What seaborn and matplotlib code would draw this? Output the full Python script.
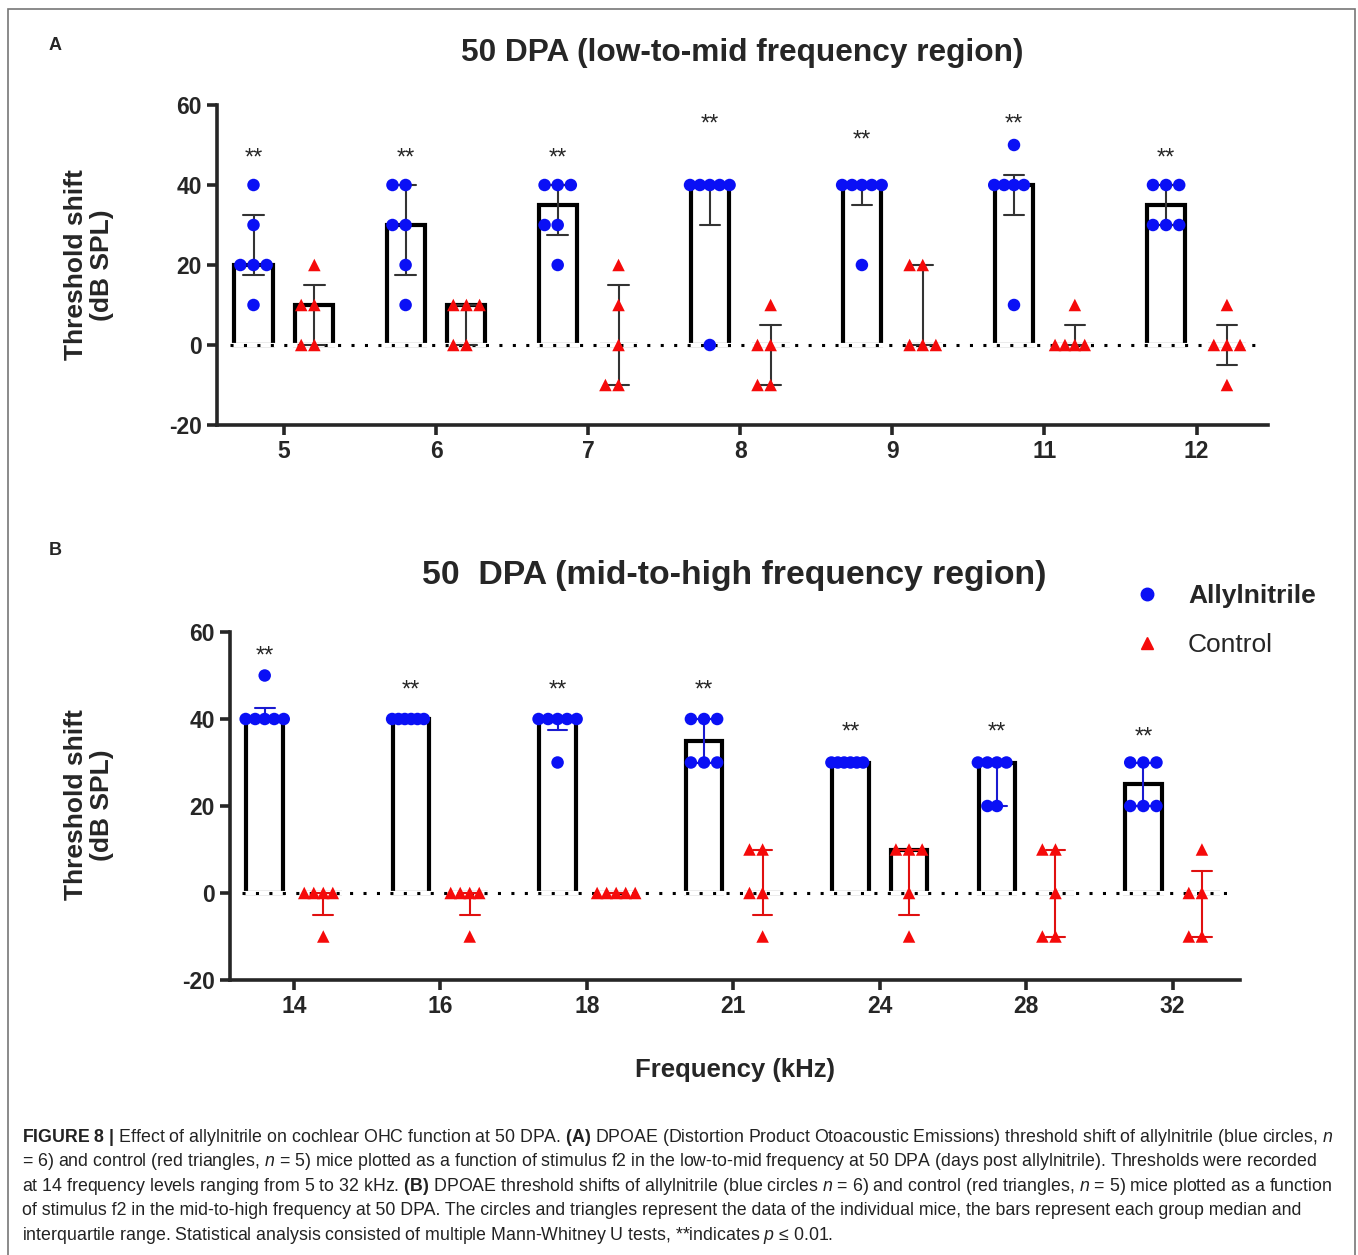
import numpy as np
import pandas as pd
import matplotlib
matplotlib.use("Agg")
import matplotlib.pyplot as plt
import seaborn as sns
from matplotlib.lines import Line2D
from matplotlib.patches import Rectangle

# Panel A: low-to-mid frequencies (kHz), threshold shift per mouse (dB SPL)
freq_a = ["5", "6", "7", "8", "9", "11", "12"]
allyl_a = [
    [40, 30, 20, 20, 20, 10],
    [40, 40, 30, 30, 20, 10],
    [40, 40, 40, 30, 30, 20],
    [40, 40, 40, 40, 40, 0],
    [40, 40, 40, 40, 40, 20],
    [50, 40, 40, 40, 40, 10],
    [40, 40, 40, 30, 30, 30],
]
ctrl_a = [
    [20, 10, 10, 0, 0],
    [10, 10, 10, 0, 0],
    [20, 10, 0, -10, -10],
    [10, 0, 0, -10, -10],
    [20, 20, 0, 0, 0],
    [10, 0, 0, 0, 0],
    [10, 0, 0, 0, -10],
]
sig_a = [46.5, 46.5, 46.5, 55, 51, 55, 46.5]

# Panel B: mid-to-high frequencies
freq_b = ["14", "16", "18", "21", "24", "28", "32"]
allyl_b = [
    [50, 40, 40, 40, 40, 40],
    [40, 40, 40, 40, 40, 40],
    [40, 40, 40, 40, 40, 30],
    [40, 40, 40, 30, 30, 30],
    [30, 30, 30, 30, 30, 30],
    [30, 30, 30, 30, 20, 20],
    [30, 30, 30, 20, 20, 20],
]
ctrl_b = [
    [0, 0, 0, 0, -10],
    [0, 0, 0, 0, -10],
    [0, 0, 0, 0, 0],
    [10, 10, 0, 0, -10],
    [10, 10, 10, 0, -10],
    [10, 10, 0, -10, -10],
    [10, 0, 0, -10, -10],
]
sig_b = [54.3, 46.6, 46.6, 46.6, 36.8, 36.8, 35.8]

groups = ["Allylnitrile", "Control"]
dot_colors = {"Allylnitrile": "#0a10f5", "Control": "#f50a0a"}
markers = {"Allylnitrile": "o", "Control": "^"}

sns.set_style("ticks")
plt.rcParams["font.family"] = ["Liberation Sans", "DejaVu Sans"]
plt.rcParams["axes.unicode_minus"] = False
plt.rcParams["mathtext.fontset"] = "custom"
plt.rcParams["mathtext.rm"] = "Liberation Sans"
plt.rcParams["mathtext.it"] = "Liberation Sans:italic"
plt.rcParams["mathtext.bf"] = "Liberation Sans:bold"


def long_df(freqs, allyl, ctrl):
    rows = []
    for f, a, c in zip(freqs, allyl, ctrl):
        rows += [(f, "Allylnitrile", v) for v in a]
        rows += [(f, "Control", v) for v in c]
    return pd.DataFrame(rows, columns=["freq", "group", "shift"])


def iqr(x):
    # GraphPad style quartiles
    return (np.percentile(x, 25, method="weibull"),
            np.percentile(x, 75, method="weibull"))


def draw_panel(ax, df, freqs, err_colors, sig_y, xlim):
    for g in groups:
        sub = df[df.group == g]
        sns.barplot(data=sub, x="freq", y="shift", hue="group", order=freqs,
                    hue_order=groups, palette={k: "white" for k in groups},
                    estimator="median", errorbar=iqr, capsize=0.27,
                    err_kws={"color": err_colors[g], "linewidth": 1.5},
                    width=0.8, gap=0.375, dodge=True, edgecolor="black",
                    linewidth=3, saturation=1, legend=False, ax=ax)
    for g in groups:
        sub = df[df.group == g]
        sns.swarmplot(data=sub, x="freq", y="shift", hue="group", order=freqs,
                      hue_order=groups, palette=dot_colors, dodge=True,
                      marker=markers[g], size=9, linewidth=0, legend=False,
                      warn_thresh=1, ax=ax)
    for p in ax.patches:
        p.set_zorder(2)
    for ln in ax.lines:
        ln.set_zorder(3)
    for c in ax.collections:
        c.set_zorder(4)
    ax.axhline(0, color="white", lw=3, zorder=2.5)
    ax.axhline(0, xmin=0.012, xmax=0.995, color="black", lw=2.2,
               ls=(0, (1, 3.4)), zorder=2.6)
    for i, y in enumerate(sig_y):
        ax.text(i - 0.2, y, "**", ha="center", va="center", fontsize=17)
    ax.set_xlim(*xlim)
    ax.set_ylim(-20, 60)
    ax.set_yticks([-20, 0, 20, 40, 60])
    ax.set_xlabel("")
    ax.set_ylabel("")
    sns.despine(ax=ax)
    for s in ["left", "bottom"]:
        ax.spines[s].set_linewidth(2.6)
    ax.tick_params(width=2.6, length=7, labelsize=16.5, pad=4)
    for lbl in ax.get_xticklabels() + ax.get_yticklabels():
        lbl.set_fontweight("bold")


fig = plt.figure(figsize=(13.58, 12.55), dpi=100)
W, H = 1358, 1255

ax_a = fig.add_axes([217 / W, 1 - 425 / H, 1051 / W, 320 / H])
ax_b = fig.add_axes([230 / W, 1 - 980 / H, 1010 / W, 348 / H])

draw_panel(ax_a, long_df(freq_a, allyl_a, ctrl_a), freq_a,
           {"Allylnitrile": "#333333", "Control": "#333333"}, sig_a,
           (-0.44, 6.47))
draw_panel(ax_b, long_df(freq_b, allyl_b, ctrl_b), freq_b,
           {"Allylnitrile": "#1a1ad0", "Control": "#e01010"}, sig_b,
           (-0.437, 6.46))

# squeeze wide swarms so the dots stay within the bar width, like the original
fig.canvas.draw()
half = 0.13
for ax in (ax_a, ax_b):
    n = len(ax.get_xticks())
    centers = np.concatenate([np.arange(n) - 0.2, np.arange(n) + 0.2])
    for coll in ax.collections:
        if "draw" in coll.__dict__:
            del coll.draw
        off = np.asarray(coll.get_offsets())
        if len(off) == 0:
            continue
        c = centers[np.argmin(np.abs(centers - off[:, 0].mean()))]
        spread = np.abs(off[:, 0] - c).max()
        if spread > half:
            off[:, 0] = c + (half / spread) * (off[:, 0] - c)
            coll.set_offsets(off)

# titles and labels
fig.text(742 / W, 1 - 53 / H, "50 DPA (low-to-mid frequency region)",
         ha="center", va="center", fontsize=22.8, fontweight="bold")
fig.text(734 / W, 1 - 576 / H, "50  DPA (mid-to-high frequency region)",
         ha="center", va="center", fontsize=24.3, fontweight="bold")
fig.text(55 / W, 1 - 45 / H, "A", ha="center", va="center",
         fontsize=13, fontweight="bold")
fig.text(55 / W, 1 - 550 / H, "B", ha="center", va="center",
         fontsize=13, fontweight="bold")
for yc in (265, 805):
    fig.text(89 / W, 1 - yc / H, "Threshold shift\n(dB SPL)", rotation=90,
             ha="center", va="center", multialignment="center",
             fontsize=19, fontweight="bold", linespacing=1.15)
fig.text(735 / W, 1 - 1070 / H, "Frequency (kHz)", ha="center", va="center",
         fontsize=18.5, fontweight="bold")

# legend
handles = [Line2D([], [], marker=markers[g], color=dot_colors[g], ls="none",
                  markersize=9) for g in groups]
leg = fig.legend(handles, groups, loc="upper left",
                 bbox_to_anchor=(1097 / W, 1 - 560 / H), frameon=False,
                 fontsize=19, handletextpad=0.55, labelspacing=0.95)
leg.get_texts()[0].set_fontweight("bold")

# caption
caption = [
    r"$\mathbf{FIGURE\ 8\ |}$ Effect of allylnitrile on cochlear OHC function at 50 DPA. $\mathbf{(A)}$ DPOAE (Distortion Product Otoacoustic Emissions) threshold shift of allylnitrile (blue circles, $n$",
    r"= 6) and control (red triangles, $n$ = 5) mice plotted as a function of stimulus f2 in the low-to-mid frequency at 50 DPA (days post allylnitrile). Thresholds were recorded",
    r"at 14 frequency levels ranging from 5 to 32 kHz. $\mathbf{(B)}$ DPOAE threshold shifts of allylnitrile (blue circles $n$ = 6) and control (red triangles, $n$ = 5) mice plotted as a function",
    r"of stimulus f2 in the mid-to-high frequency at 50 DPA. The circles and triangles represent the data of the individual mice, the bars represent each group median and",
    r"interquartile range. Statistical analysis consisted of multiple Mann-Whitney U tests, **indicates $p$ ≤ 0.01.",
]
for i, line in enumerate(caption):
    fig.text(22 / W, 1 - (1142 + 24.4 * i) / H, line, ha="left",
             va="baseline", fontsize=12.8, color="#222222")

# thin frame around the figure
fig.add_artist(Rectangle((8 / W, -0.01), (1355 - 8) / W, 1.01 - 9 / H,
                         transform=fig.transFigure, fill=False,
                         edgecolor="#777777", lw=1.2))

fig.savefig("out.png", dpi=100)
